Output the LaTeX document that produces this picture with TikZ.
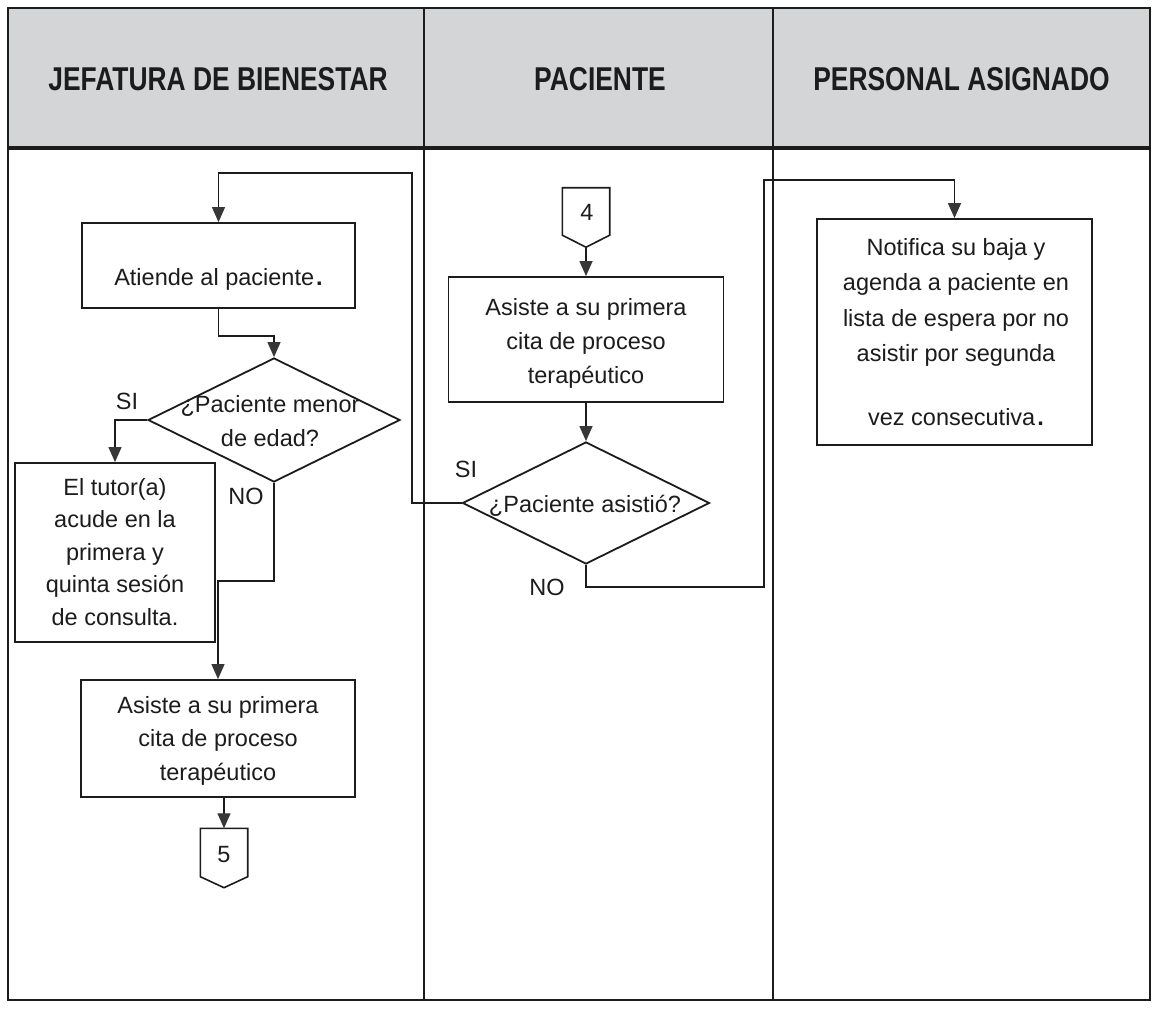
\documentclass[tikz,border=0pt]{standalone}
\usepackage{fontspec}
\usepackage{graphicx}
\setmainfont{Liberation Sans}
\usetikzlibrary{arrows.meta,shapes.geometric,calc}
\definecolor{hdrgray}{RGB}{212,213,215}
\definecolor{ink}{RGB}{28,28,28}
\definecolor{tipgray}{RGB}{55,55,55}
\begin{document}
\begin{tikzpicture}[x=1pt,y=-1pt,
  body/.style={font=\fontsize{23.5}{34}\selectfont, align=center, inner sep=0pt, text=ink},
  hdr/.style={font=\fontsize{33}{36}\selectfont\bfseries, inner sep=0pt, text=ink},
  boxx/.style={draw=ink, line width=1.8pt, inner sep=0pt},
  dia/.style={draw=ink, line width=1.8pt, shape=diamond, inner sep=0pt},
  offp/.style={inner sep=0pt, minimum width=47pt, minimum height=59pt},
  offline/.style={draw=ink, line width=1.6pt},
  conn/.style={draw=ink, line width=1.3pt},
  arr/.style={conn, -{Triangle[width=13pt,length=15pt,color=tipgray]}},
  lbl/.style={font=\fontsize{23.5}{28}\selectfont, inner sep=0pt, text=ink},
]
\useasboundingbox (0,0) rectangle (1152,1014);
\fill[white] (0,0) rectangle (1152,1014);

% table
\fill[hdrgray] (8,8) rectangle (1150,148);
\draw[ink, line width=2.5pt] (8,8) rectangle (1150,1000);
\draw[ink, line width=3.5pt] (8,148) -- (1150,148);
\draw[ink, line width=2pt] (424,8) -- (424,1000);
\draw[ink, line width=2pt] (773,8) -- (773,1000);

\node[hdr] (h1) at (218,79) {\scalebox{0.8}[1]{JEFATURA DE BIENESTAR}};
\node[hdr] (h2) at (600,79) {\scalebox{0.8}[1]{PACIENTE}};
\node[hdr] (h3) at (961.5,79) {\scalebox{0.8}[1]{PERSONAL ASIGNADO}};

% lane 1
\node[boxx, minimum width=273pt, minimum height=85pt] (atiende) at (218.5,265.5) {};
\node[body] (tatiende) at (218.5,279) {Atiende al paciente\kern2pt\textbf{.}};

\node[dia, minimum width=252pt, minimum height=124pt] (d1) at (274,420) {};
\node[body, font=\fontsize{23.5}{34.5}\selectfont] (td1) at (270,421) {¿Paciente menor\\de edad?};

\node[boxx, minimum width=200pt, minimum height=179pt] (tutor) at (115,552.5) {};
\node[body, font=\fontsize{23.5}{32.5}\selectfont] (ttutor) at (115,552) {El tutor(a)\\acude en la\\primera y\\quinta sesión\\de consulta.};

\node[boxx, minimum width=274pt, minimum height=117pt] (asiste1) at (218,738.5) {};
\node[body, font=\fontsize{23.5}{33.5}\selectfont] (tasiste1) at (218,740.5) {Asiste a su primera\\cita de proceso\\terapéutico};

\node[offp] (c5) at (224,858) {};
\draw[offline] (c5.north west) -- (c5.north east) -- ([yshift=11pt]c5.south east) -- (c5.south) -- ([yshift=11pt]c5.south west) -- cycle;
\node[lbl] (t5) at (224,855) {5};

\node[lbl] (si1) at (127,401.5) {SI};
\node[lbl] (no1) at (246,496) {NO};

% lane 2
\node[offp] (c4) at (586,217.5) {};
\draw[offline] (c4.north west) -- (c4.north east) -- ([yshift=12pt]c4.south east) -- (c4.south) -- ([yshift=12pt]c4.south west) -- cycle;
\node[lbl] (t4) at (587,212) {4};

\node[boxx, minimum width=275pt, minimum height=125pt] (asiste2) at (586,339.5) {};
\node[body] (tasiste2) at (586,343) {Asiste a su primera\\cita de proceso\\terapéutico};

\node[dia, minimum width=247pt, minimum height=122pt] (d2) at (586,503) {};
\node[body] (td2) at (585,506) {¿Paciente asistió?};

\node[lbl] (si2) at (466,469) {SI};
\node[lbl] (no2) at (547,587) {NO};

% lane 3
\node[boxx, minimum width=275pt, minimum height=226pt] (notif) at (954.5,332) {};
\node[body, font=\fontsize{23.5}{35.5}\selectfont] (tnotif) at (956,332) {Notifica su baja y\\agenda a paciente en\\lista de espera por no\\asistir por segunda\\[28pt]vez consecutiva\kern2pt\textbf{.}};

% connectors
\coordinate (loopA) at (412,173);
\coordinate (loopB) at (764,180);
\draw[arr] (d2.west) -| (loopA) -| (atiende.north);
\draw[arr] (atiende.south) -- ++(0,27) -| (d1.north);
\draw[arr] (d1.west) -| (tutor.north);
\draw[arr] (d1.south) -- ++(0,98) -| (asiste1.north);
\draw[arr] (c5.north |- asiste1.south) -- (c5.north);
\draw[arr] (c4.south) -- (asiste2.north);
\draw[arr] (asiste2.south) -- (d2.north);
\draw[arr] (d2.south) -- ++(0,22) -| (loopB) -| (notif.north);
\end{tikzpicture}
\end{document}
